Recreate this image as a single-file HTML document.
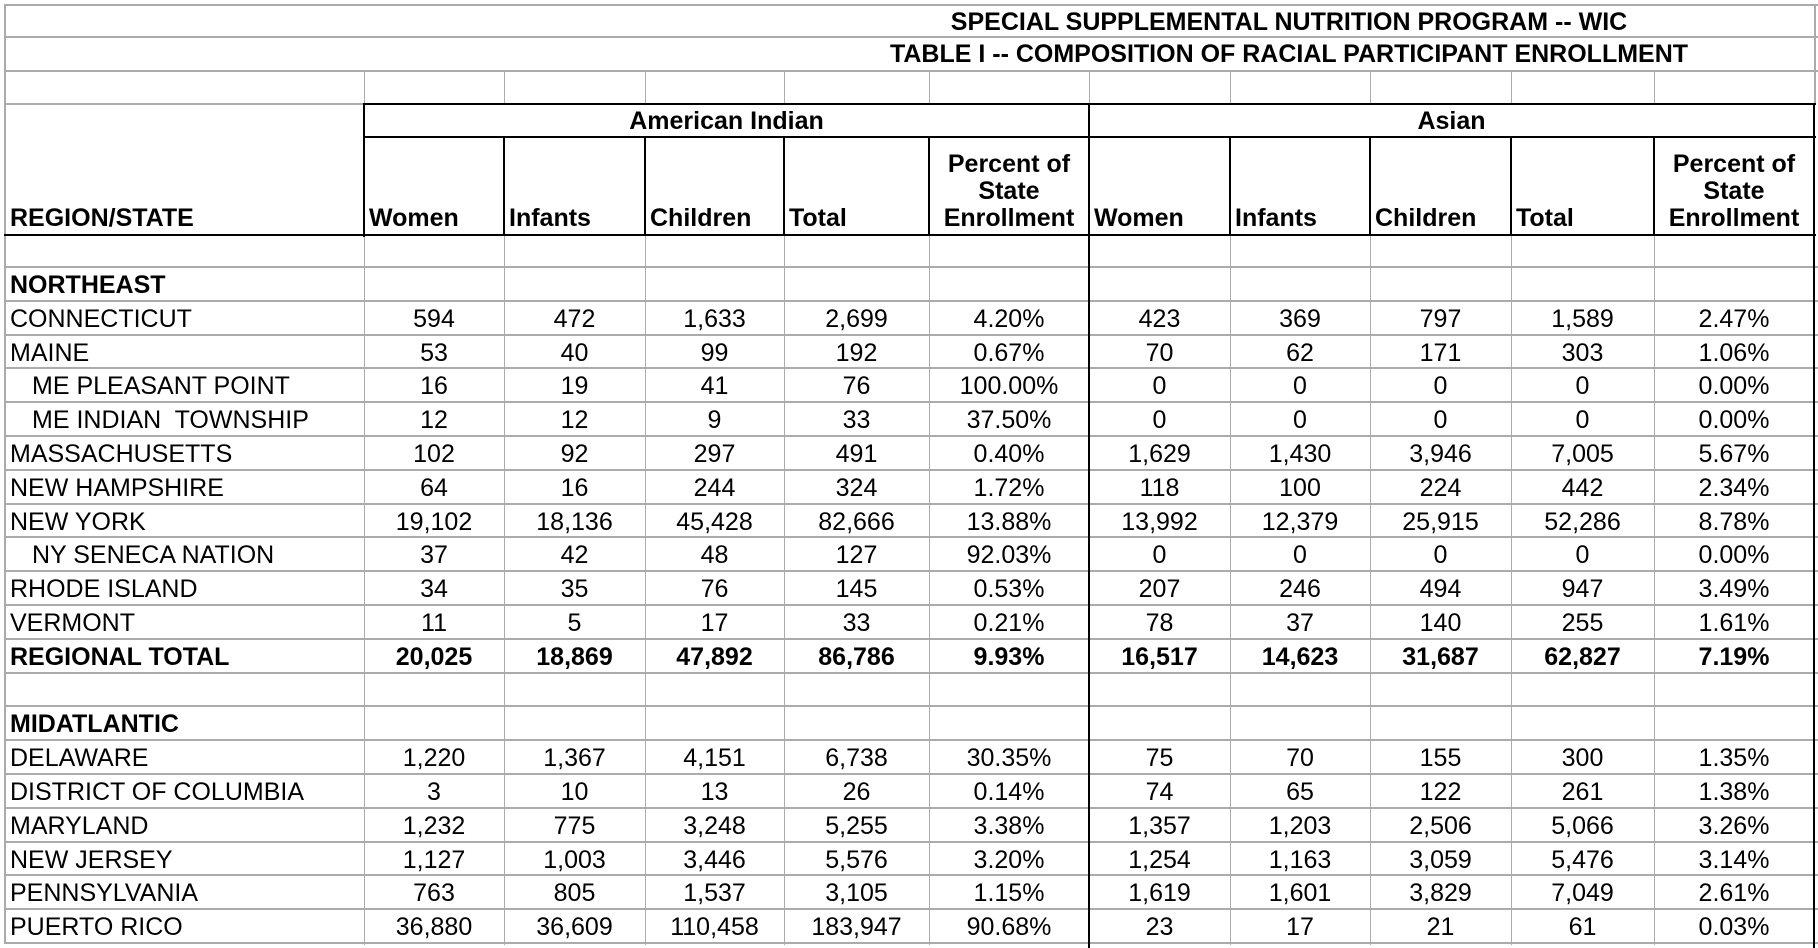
<!DOCTYPE html>
<html><head><meta charset="utf-8"><style>
html,body{margin:0;padding:0;background:#fff}
#wrap{position:relative;width:1818px;height:948px;overflow:hidden;font-family:"Liberation Sans",Arial,sans-serif;font-size:25px;color:#000}
.l{position:absolute}
.t{position:absolute;white-space:pre;line-height:27px}
</style></head><body>
<div id="wrap"></div>
<script>
const colX=[5,364,504,645,784,929,1089,1230,1370,1511,1654,1814];
const colHeaders=["Women","Infants","Children","Total","Percent of\nState\nEnrollment","Women","Infants","Children","Total","Percent of\nState\nEnrollment"];
const groupHeaders=["American Indian","Asian"];
const rowLabels=["NORTHEAST","CONNECTICUT","MAINE","ME PLEASANT POINT","ME INDIAN  TOWNSHIP","MASSACHUSETTS","NEW HAMPSHIRE","NEW YORK","NY SENECA NATION","RHODE ISLAND","VERMONT","REGIONAL TOTAL","","MIDATLANTIC","DELAWARE","DISTRICT OF COLUMBIA","MARYLAND","NEW JERSEY","PENNSYLVANIA","PUERTO RICO"];
const rowBold=[1,0,0,0,0,0,0,0,0,0,0,1,0,1,0,0,0,0,0,0];
const rowIndent=[0,0,0,1,1,0,0,0,1,0,0,0,0,0,0,0,0,0,0,0];
const rowValues=[
null,
["594","472","1,633","2,699","4.20%","423","369","797","1,589","2.47%"],
["53","40","99","192","0.67%","70","62","171","303","1.06%"],
["16","19","41","76","100.00%","0","0","0","0","0.00%"],
["12","12","9","33","37.50%","0","0","0","0","0.00%"],
["102","92","297","491","0.40%","1,629","1,430","3,946","7,005","5.67%"],
["64","16","244","324","1.72%","118","100","224","442","2.34%"],
["19,102","18,136","45,428","82,666","13.88%","13,992","12,379","25,915","52,286","8.78%"],
["37","42","48","127","92.03%","0","0","0","0","0.00%"],
["34","35","76","145","0.53%","207","246","494","947","3.49%"],
["11","5","17","33","0.21%","78","37","140","255","1.61%"],
["20,025","18,869","47,892","86,786","9.93%","16,517","14,623","31,687","62,827","7.19%"],
null,null,
["1,220","1,367","4,151","6,738","30.35%","75","70","155","300","1.35%"],
["3","10","13","26","0.14%","74","65","122","261","1.38%"],
["1,232","775","3,248","5,255","3.38%","1,357","1,203","2,506","5,066","3.26%"],
["1,127","1,003","3,446","5,576","3.20%","1,254","1,163","3,059","5,476","3.14%"],
["763","805","1,537","3,105","1.15%","1,619","1,601","3,829","7,049","2.61%"],
["36,880","36,609","110,458","183,947","90.68%","23","17","21","61","0.03%"]
];
const W=document.getElementById('wrap');
const G='#ababab';
function line(x,y,w,h,c,name){
  const d=document.createElement('div');d.className='l';
  d.style.cssText=`left:${x}px;top:${y}px;width:${w}px;height:${h}px;background:${c}`;
  
  
  W.appendChild(d);return d;
}
function text(s,x,y,w,align,bold,name){
  const d=document.createElement('div');d.className='t';
  d.style.cssText=`left:${x}px;top:${y}px;width:${w}px;text-align:${align};font-weight:${bold?'bold':'normal'}`;
  d.textContent=s;
  
  
  W.appendChild(d);return d;
}
const rowTop0=267, rowH=(943-267)/20;
const rowY=i=>Math.round(rowTop0+i*rowH);
[4,36,70].forEach(y=>line(4,y,1814,2,G,'grid-line'));
line(4,103,361,2,G,'grid-line');
line(4,4,2,940,G,'left-border');
colX.slice(1,11).forEach(x=>line(x,70,1,34,G,'grid-line'));
line(1814,4,2,100,G,'grid-line');
for(let i=0;i<=20;i++){line(4,rowY(i)-1,1814,2,G,'row-line');}
line(4,234,1812,2,G,'row-line');
colX.slice(1,11).forEach((x,k)=>{ if(x!==1089) line(x,235,1,710,G,'col-line');});
line(364,103,1452,2,'#000','group-header-top');
line(364,136,1452,2,'#000','group-header-bottom');
line(4,234,1812,2,'#000','header-bottom');
line(363,103,2,134,'#000','header-left');
for(let k=2;k<11;k++) if(colX[k]!==1089) line(colX[k]-1,136,2,100,'#000','header-divider');
line(1088,103,2,845,'#000','group-divider');
line(1813,103,2,845,'#000','right-border');
text("SPECIAL SUPPLEMENTAL NUTRITION PROGRAM -- WIC",789,9,1000,'center',1,'title');
text("TABLE I -- COMPOSITION OF RACIAL PARTICIPANT ENROLLMENT",789,41,1000,'center',1,'subtitle');
text(groupHeaders[0],364,108,725,'center',1,'group-header-american-indian');
text(groupHeaders[1],1089,108,725,'center',1,'group-header-asian');
text("REGION/STATE",10,205,340,'left',1,'region-state-header');
colHeaders.forEach((h,k)=>{
  const n=h.split('\n').length;
  const pct=n>1;
  text(h,pct?colX[k+1]:colX[k+1]+5,205-(n-1)*27,pct?colX[k+2]-colX[k+1]:200,pct?'center':'left',1,'column-header');
});
rowLabels.forEach((lab,i)=>{
  const y=rowY(i)+5;
  if(lab) text(lab,rowIndent[i]?32:10,y,340,'left',rowBold[i],'row-label');
  const v=rowValues[i];
  if(v) v.forEach((s,k)=>text(s,colX[k+1],y,colX[k+2]-colX[k+1],'center',rowBold[i],'cell-value'));
});
</script>
</body></html>
